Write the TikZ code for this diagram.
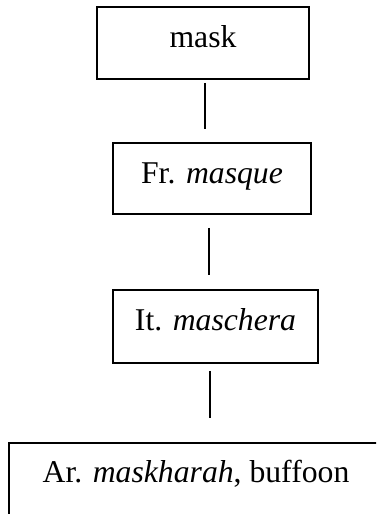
\documentclass[tikz,border=0pt]{standalone}
\usepackage{fontspec}
\setmainfont{Liberation Serif}
\begin{document}
\begin{tikzpicture}[x=0.5pt,y=-0.5pt,
  etybox/.style={draw, line width=0.9pt, inner xsep=0pt, inner ysep=0pt,
    font=\fontsize{15.85}{19}\selectfont, text height=20pt, text depth=16pt},
  link/.style={draw, line width=0.65pt}]
\useasboundingbox (0,0) rectangle (376,514);
\clip (0,0) rectangle (376,514);
\node[etybox, minimum width=106pt] (b1) at (203,43) {mask};
\node[etybox, minimum width=99pt, text depth=15.5pt] (b2) at (212,178.5) {Fr. \textit{masque}};
\node[etybox, minimum width=102.5pt, text depth=16.5pt] (b3) at (215.5,326.5) {It. \textit{maschera}};
\node[etybox, minimum width=187pt, text height=19.5pt, text depth=20pt] (b4) at (196,482.5) {Ar. \textit{maskharah}, buffoon};
\draw[link] ([xshift=1pt,yshift=-1.5pt]b1.south) -- ([xshift=-3.5pt,yshift=6.5pt]b2.north);
\draw[link] ([xshift=-1.5pt,yshift=-6.5pt]b2.south) -- ([xshift=-3.25pt,yshift=7pt]b3.north);
\draw[link] ([xshift=-2.75pt,yshift=-3.5pt]b3.south) -- ([xshift=7pt,yshift=12pt]b4.north);
\end{tikzpicture}
\end{document}
